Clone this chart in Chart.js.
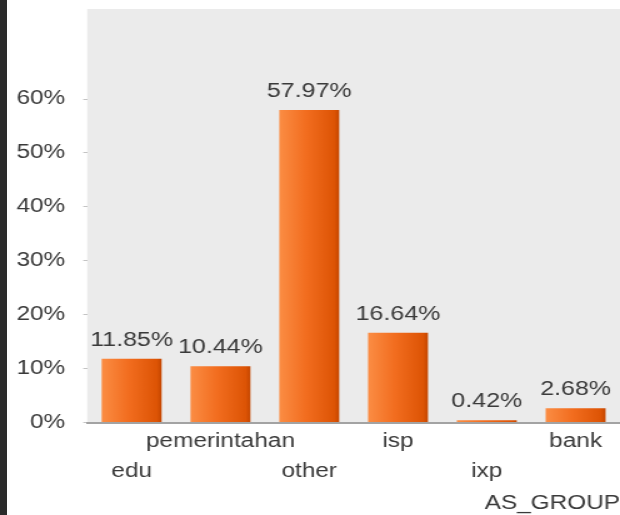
<!DOCTYPE html>
<html>
<head>
<meta charset="utf-8">
<script src="https://cdn.jsdelivr.net/npm/chart.js@4"></script>
<style>
  html, body { margin: 0; padding: 0; background: #fff; overflow: hidden; }
  #strip { position: absolute; left: 0; top: 0; width: 7px; height: 515px; background: #2b2b2b; z-index: 2; }
  /* the source screenshot is stretched sideways, so the whole chart is too */
  #wrap { position: absolute; left: 0; top: 0; width: 496px; height: 515px; transform: scaleX(1.25); transform-origin: 0 0; }
</style>
</head>
<body>
<div id="strip"></div>
<div id="wrap"><canvas id="chart"></canvas></div>
<script>
  const categories = ["edu", "pemerintahan", "other", "isp", "ixp", "bank"];
  const shares = [11.85, 10.44, 57.97, 16.64, 0.42, 2.68];
  const yTicks = [0, 10, 20, 30, 40, 50, 60];
  const axisTitle = "AS_GROUP";

  const FONT = "'Liberation Sans', Arial, sans-serif";
  const BAR_PCT = 0.675;

  // odd labels sit on the upper row, even ones on the lower row
  const xLabels = categories.map((c, i) => i % 2 === 0 ? ["", c] : [c, ""]);

  function barFill(ctx){
    const chart = ctx.chart;
    const x = chart.scales.x;
    if(!x || !chart.chartArea) return "#f06a1a";
    const cx = x.getPixelForValue(ctx.dataIndex);
    const half = (x.width / categories.length) * BAR_PCT / 2;
    const g = chart.ctx.createLinearGradient(cx - half, 0, cx + half, 0);
    g.addColorStop(0, "#fb8d44");
    g.addColorStop(0.45, "#f26d1f");
    g.addColorStop(0.92, "#dd5405");
    g.addColorStop(1, "#c44600");
    return g;
  }

  const plotBg = {
    id: "plotBg",
    beforeDraw(chart){
      const a = chart.chartArea;
      const c = chart.ctx;
      c.save();
      c.fillStyle = "#ebebeb";
      c.fillRect(a.left, a.top, a.right - a.left, a.bottom - a.top);
      c.restore();
    }
  };

  const valueLabels = {
    id: "valueLabels",
    afterDatasetsDraw(chart){
      const c = chart.ctx;
      const meta = chart.getDatasetMeta(0);
      c.save();
      c.font = "20px " + FONT;
      c.fillStyle = "#3a3a3a";
      c.textAlign = "center";
      c.textBaseline = "alphabetic";
      meta.data.forEach((bar, i) => {
        c.fillText(shares[i].toFixed(2) + "%", bar.x, bar.y - 13);
      });
      c.restore();
    }
  };

  new Chart(document.getElementById("chart"), {
    type: "bar",
    data: {
      labels: xLabels,
      datasets: [{
        data: shares,
        backgroundColor: barFill,
        borderWidth: 0,
        barPercentage: BAR_PCT,
        categoryPercentage: 1
      }]
    },
    options: {
      responsive: true,
      maintainAspectRatio: false,
      animation: false,
      layout: { padding: { top: 9, right: 0, bottom: 0, left: 0 } },
      plugins: { legend: { display: false }, tooltip: { enabled: false } },
      scales: {
        x: {
          afterFit(scale){
            scale.paddingLeft = 0;
            scale.paddingRight = 0;
            scale.height = scale.height - 5;
          },
          grid: { display: false, drawTicks: false },
          border: { display: true, color: "#a3a3a3", width: 2 },
          ticks: {
            autoSkip: false,
            maxRotation: 0,
            padding: 4,
            color: "#3a3a3a",
            font: { family: FONT, size: 19.5, lineHeight: 30 / 19.5 }
          },
          title: {
            display: true,
            text: axisTitle,
            align: "end",
            color: "#3a3a3a",
            font: { family: FONT, size: 19.5, lineHeight: 1.2 },
            padding: { top: 6, bottom: 0 }
          }
        },
        y: {
          min: 0,
          max: 76.7,
          afterBuildTicks(scale){
            scale.ticks = yTicks.map(v => ({ value: v }));
          },
          afterFit(scale){
            scale.width = 69.8;
            scale.paddingTop = 0;
            scale.paddingBottom = 0;
          },
          grid: { drawOnChartArea: false, drawTicks: true, tickLength: 3.2, color: "#c4c4c4" },
          border: { display: false },
          ticks: {
            padding: 14.4,
            color: "#3a3a3a",
            font: { family: FONT, size: 19.5 },
            callback: (v) => v + "%"
          }
        }
      }
    },
    plugins: [plotBg, valueLabels]
  });
</script>
</body>
</html>
